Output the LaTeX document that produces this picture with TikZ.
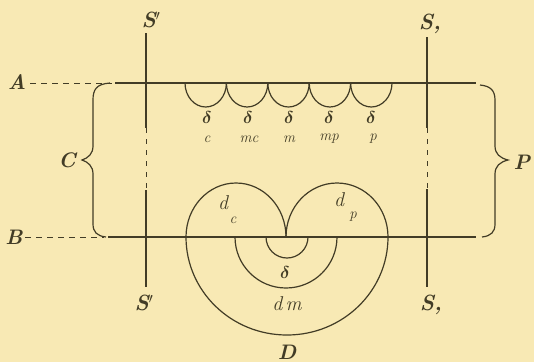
\documentclass[tikz,border=0pt]{standalone}
\usetikzlibrary{calc}
\definecolor{bgc}{RGB}{248,233,180}
\definecolor{ink}{RGB}{66,60,38}
\begin{document}
\begin{tikzpicture}[x=1pt,y=-1pt,
  thick line/.style={draw=ink,line width=2.8pt},
  thin line/.style={draw=ink,line width=1.2pt},
  vline/.style={draw=ink,line width=1.4pt},
  dash line/.style={draw=ink,line width=1pt,dash pattern=on 6pt off 5pt},
  lab/.style={text=ink,inner sep=0pt,font=\fontsize{21}{21}\selectfont\bfseries\itshape},
  slab/.style={text=ink,inner sep=0pt,font=\fontsize{22}{22}\selectfont\bfseries\itshape},
  dlab/.style={text=ink,inner sep=0pt,font=\fontsize{17}{17}\selectfont\boldmath},
  sub/.style={text=ink,inner sep=0pt,font=\fontsize{15}{15}\selectfont\itshape},
  big sub/.style={text=ink,inner sep=0pt,font=\fontsize{20}{20}\selectfont\itshape}]
\fill[bgc] (0,0) rectangle (534,362);
\useasboundingbox (0,0) rectangle (534,362);
% coordinates
\coordinate (A0) at (30,83); \coordinate (A1) at (112,83);
\coordinate (A2) at (115,83); \coordinate (A3) at (476,83);
\coordinate (B0) at (25,237); \coordinate (B1) at (104,237);
\coordinate (B2) at (108,237); \coordinate (B3) at (476,237);
% labels
\node[lab] (A) at (17,82) {A};
\node[lab] (B) at (14,237) {B};
\node[lab] (C) at (67,160) {C};
\node[lab] (P) at (522,162) {P};
\node[lab] (D) at (287,352) {D};
\node[slab] (S1t) at (151,20) {S$'$};
\node[slab] (S1b) at (144,303) {S$'$};
\node[slab] (S2t) at (430,24) {S,};
\node[slab] (S2b) at (431,305) {S,};
% main lines
\draw[dash line] (A0) -- (A1);
\draw[dash line] (B0) -- (B1);
\draw[thick line] (A2) -- (A3);
\draw[thick line] (B2) -- (B3);
% vertical lines
\coordinate (s1a) at (146,33); \coordinate (s1b) at (146,128);
\coordinate (s1c) at (146,190); \coordinate (s1d) at (146,287);
\draw[vline] (s1a) -- (s1b);
\draw[vline,dash pattern=on 5pt off 6pt,line width=1pt] (s1b) -- (s1c);
\draw[vline] (s1c) -- (s1d);
\coordinate (s2a) at (427,37); \coordinate (s2b) at (427,128);
\coordinate (s2c) at (427,189); \coordinate (s2d) at (427,287);
\draw[vline] (s2a) -- (s2b);
\draw[vline,dash pattern=on 5pt off 6pt,line width=1pt] (s2b) -- (s2c);
\draw[vline] (s2c) -- (s2d);
% braces
\draw[thin line] (110,83) .. controls (96,84) and (93,90) .. (93,100)
  -- (93,146) .. controls (93,154) and (88,158) .. (82,160)
  .. controls (88,162) and (93,166) .. (93,174)
  -- (93,224) .. controls (93,232) and (97,236) .. (106,237);
\draw[thin line] (480,85) .. controls (490,86) and (495,90) .. (495,100)
  -- (495,146) .. controls (495,154) and (500,158) .. (508,160)
  .. controls (500,162) and (495,166) .. (495,174)
  -- (495,224) .. controls (495,232) and (491,236) .. (482,237);
% scallops
\foreach \i in {0,...,4}{
  \draw[thin line] ({185+41.4*\i},83) arc[start angle=180,end angle=0,x radius=20.7,y radius=24];
}
\node[dlab] (d1) at (207,117) {$\delta$};
\node[sub] (e1) at (207,139) {c};
\node[dlab] (d2) at (248,117) {$\delta$};
\node[sub] (e2) at (249,139) {mc};
\node[dlab] (d3) at (289,117) {$\delta$};
\node[sub] (e3) at (289,139) {m};
\node[dlab] (d4) at (329,117) {$\delta$};
\node[sub] (e4) at (329,139) {mp};
\node[dlab] (d5) at (371,117) {$\delta$};
\node[sub] (e5) at (373,139) {p};
% heart
\draw[thin line] (186,237) arc[start angle=180,end angle=0,x radius=101,y radius=98];
\draw[thin line] (186,237) arc[start angle=180,end angle=360,x radius=50,y radius=54];
\draw[thin line] (286,237) arc[start angle=180,end angle=360,x radius=51,y radius=54];
\draw[thin line] (235,237) arc[start angle=180,end angle=0,x radius=51,y radius=51];
\draw[thin line] (266,237) arc[start angle=180,end angle=0,x radius=21,y radius=21];
\node[big sub] (dc) at (223,203) {d};
\node[sub] (dcs) at (233,220) {c};
\node[big sub] (dp) at (339,200) {d};
\node[sub] (dps) at (353,217) {p};
\node[dlab] (dd) at (285,272) {$\delta$};
\node[big sub] (dm) at (287,304) {d\,m};
\end{tikzpicture}
\end{document}
